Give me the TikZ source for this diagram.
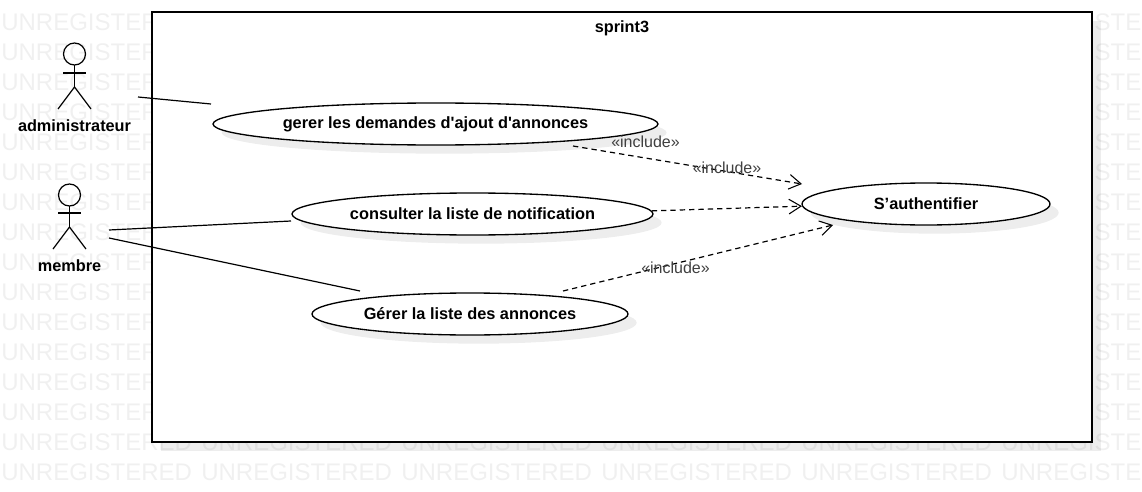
\documentclass[tikz,border=0pt]{standalone}
\usepackage{fontspec}
\usepackage{tikz}
\usetikzlibrary{shapes}
\usetikzlibrary{shadows}
\usetikzlibrary{arrows.meta}
\newfontfamily\diagramfont{Liberation Sans}
\tikzset{
    pale shadow/.style={general shadow={shadow xshift=6.5pt, shadow yshift=-6.5pt, fill=black, opacity=0.07}},
    usecase/.style={ellipse, draw, fill=white, line width=1pt, inner sep=0, pale shadow, font=\diagramfont\bfseries\fontsize{12.25}{14}\selectfont},
    actorname/.style={inner sep=0, font=\diagramfont\bfseries\fontsize{12.2}{14}\selectfont},
    includename/.style={inner sep=0, text=black!75, font=\diagramfont\fontsize{12}{14}\selectfont},
    watermark/.style={inner sep=0, anchor=west, text=black!6, font=\diagramfont\fontsize{18}{20}\selectfont},
    stickline/.style={line width=0.9pt},
    assoc/.style={line width=0.9pt},
    inclusion/.style={line width=0.9pt, dashed, dash pattern=on 4pt off 3pt, -{Straight Barb[length=9pt, width=11pt, line width=0.8pt]}},
}

\begin{document}
\begin{tikzpicture}[x=0.75pt, y=-0.75pt]
    \useasboundingbox (0,0) rectangle (1142,492);
    \clip (0,0) rectangle (1142,492);
    \foreach \row in {22,52,...,472}
        \foreach \col in {1,201,...,1001}
            \node[watermark] (mark\row-\col) at (\col,\row) {UNREGISTERED};

    \node[draw, fill=white, line width=1pt, minimum width=705pt, minimum height=322.5pt, inner sep=0, pale shadow] (sprint) at (622,227) {};
    \node[actorname] (sprinttitle) at (622,28) {sprint3};

    \node[usecase, minimum width=333.75pt, minimum height=31.5pt] (gerer) at (435.5,124) {gerer les demandes d'ajout d'annonces};
    \node[usecase, minimum width=270.75pt, minimum height=31.5pt] (consulter) at (472.5,214) {consulter la liste de notification};
    \node[usecase, minimum width=237pt, minimum height=31.5pt] (liste) at (470,314) {Gérer la liste des annonces};
    \node[usecase, minimum width=186pt, minimum height=31.5pt] (auth) at (926,204) {S’authentifier};

    % administrateur
    \draw[stickline] (74.5,54) circle [radius=11];
    \draw[stickline] (74.5,65) -- (74.5,87);
    \draw[stickline] (63,73) -- (86,73);
    \draw[stickline] (58,109) -- (74.5,87) -- (91,109);
    \node[actorname] (admin) at (74.5,126) {administrateur};

    % membre
    \draw[stickline] (69.5,195) circle [radius=11];
    \draw[stickline] (69.5,206) -- (69.5,227);
    \draw[stickline] (58,213) -- (81,213);
    \draw[stickline] (53,249) -- (69.5,227) -- (86,249);
    \node[actorname] (membre) at (69.5,266) {membre};

    \coordinate (adminend) at (138,97);
    \coordinate (gererend) at (211,104);
    \coordinate (membreup) at (109,230);
    \coordinate (consulterend) at (291,221);
    \coordinate (membredown) at (109,238);
    \coordinate (listeend) at (360,291);
    \draw[assoc] (adminend) -- (gererend);
    \draw[assoc] (membreup) -- (consulterend);
    \draw[assoc] (membredown) -- (listeend);

    \coordinate (gererout) at (573,146);
    \coordinate (authtop) at (802,184);
    \coordinate (listeout) at (563,291);
    \coordinate (authbottom) at (833,225);
    \draw[inclusion] (gererout) -- (authtop);
    \draw[inclusion] (consulter.1.3) -- (auth.181);
    \draw[inclusion] (listeout) -- (authbottom);

    \node[includename] (includea) at (645.5,142) {«include»};
    \node[includename] (includeb) at (727,168) {«include»};
    \node[includename] (includec) at (675.5,268) {«include»};
\end{tikzpicture}
\end{document}
